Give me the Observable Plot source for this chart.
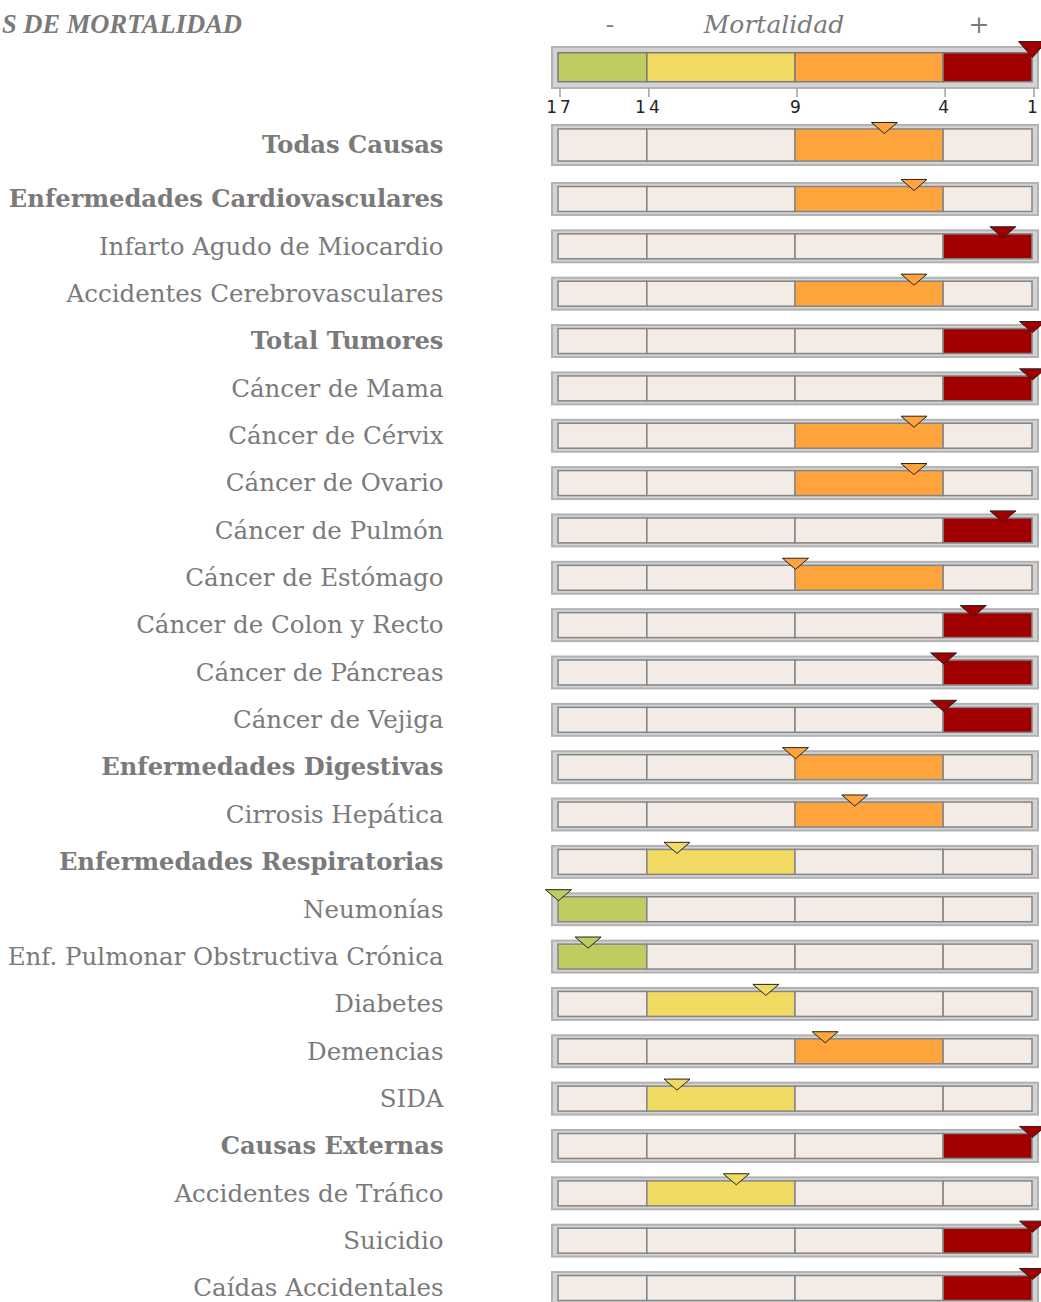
<!DOCTYPE html>
<html><head><meta charset="utf-8">
<script src="https://cdn.jsdelivr.net/npm/d3@7"></script>
<script src="https://cdn.jsdelivr.net/npm/@observablehq/plot@0.6"></script>
<style>
body{margin:0;background:#fff;}
#wrap{position:relative;width:1041px;height:1302px;overflow:hidden;font-family:"DejaVu Serif",serif;color:#7a7a7a;}
#head{position:absolute;left:0;top:0;line-height:0;}
#body{position:absolute;left:0;top:120px;line-height:0;}
.t{position:absolute;white-space:nowrap;font-style:italic;line-height:1;}
.c{transform:translateX(-50%);}
</style></head><body>
<div id="wrap">
  <div id="head"></div>
  <div id="body"></div>
  <div class="t" id="title" style="right:799px;top:11px;font-weight:bold;font-size:26.5px;font-family:'Liberation Serif',serif;">S DE MORTALIDAD</div>
  <div class="t c" style="left:610px;top:12px;font-size:25px;">-</div>
  <div class="t c" style="left:774px;top:12px;font-size:25px;">Mortalidad</div>
  <div class="t c" style="left:979px;top:12px;font-size:25px;">+</div>
</div>
<script>
// ---- data ----
const causes = ["Todas Causas", "Enfermedades Cardiovasculares", "Infarto Agudo de Miocardio",
  "Accidentes Cerebrovasculares", "Total Tumores", "Cáncer de Mama", "Cáncer de Cérvix",
  "Cáncer de Ovario", "Cáncer de Pulmón", "Cáncer de Estómago", "Cáncer de Colon y Recto",
  "Cáncer de Páncreas", "Cáncer de Vejiga", "Enfermedades Digestivas", "Cirrosis Hepática",
  "Enfermedades Respiratorias", "Neumonías", "Enf. Pulmonar Obstructiva Crónica", "Diabetes",
  "Demencias", "SIDA", "Causas Externas", "Accidentes de Tráfico", "Suicidio", "Caídas Accidentales"];
const ranks = [6, 5, 2, 5, 1, 1, 5, 5, 2, 9, 3, 4, 4, 9, 7, 13, 17, 16, 10, 8, 13, 1, 11, 1, 1];
const isGroup = [true, true, false, false, true, false, false, false, false, false, false, false, false,
  true, false, true, false, false, false, false, false, true, false, false, false];
const breaks = [17, 14, 9, 4, 1];
const levelColors = ["#bfcc5f", "#f0da62", "#ffa43c", "#a00000"];
const legendRank = 1;

// ---- helpers ----
const emptyFill = "#f3ece6";
function levelOf(r) {
  for (let i = 0; i < breaks.length - 1; i++) if (r > breaks[i + 1]) return i;
  return breaks.length - 2;
}
function downTriangle(ratio) {
  return {draw(ctx, size) {
    const r = Math.sqrt(size / Math.PI);
    ctx.moveTo(-r, -r * ratio); ctx.lineTo(r, -r * ratio); ctx.lineTo(0, 0); ctx.closePath();
  }};
}
const segments = breaks.slice(0, -1).map((b, i) => ({from: b, to: breaks[i + 1], color: levelColors[i], level: i}));
const rows = causes.map((c, i) => ({cause: c, rank: ranks[i], group: isGroup[i], head: i === 0, level: levelOf(ranks[i])}));
const cells = rows.flatMap(r => segments.map(s => ({cause: r.cause, head: r.head, from: s.from, to: s.to,
  fill: s.level === r.level ? s.color : emptyFill})));

const xScale = {domain: [breaks[0], breaks[breaks.length - 1]], range: [558, 1032], axis: null};
const rowTri = downTriangle(0.85);

function rowMarks(rs, cs, g) {
  return [
    Plot.barX(rs, {x1: () => breaks[0], x2: () => breaks[breaks.length - 1], y: "cause",
      fill: "#d3d3d3", stroke: "#b2b2b2", strokeWidth: 2,
      insetLeft: -6, insetRight: -6, insetTop: g.oTop, insetBottom: g.oBot}),
    Plot.barX(cs, {x1: "from", x2: "to", y: "cause", fill: "fill", stroke: "#858585", strokeWidth: 1.5,
      insetTop: g.iTop, insetBottom: g.iBot}),
    Plot.dot(rs, {x: "rank", y: "cause", symbol: rowTri, r: 13, dy: g.tri,
      fill: d => levelColors[d.level], stroke: "#222", strokeWidth: 1}),
    Plot.text(rs.filter(d => d.group), {y: "cause", text: "cause", frameAnchor: "left", textAnchor: "end",
      dy: g.txt, fontSize: 24.2, fontWeight: "bold", fill: "#7a7a7a"}),
    Plot.text(rs.filter(d => !d.group), {y: "cause", text: "cause", frameAnchor: "left", textAnchor: "end",
      dy: g.txt, fontSize: 24.5, fill: "#7a7a7a"})
  ];
}

const headGeom = {oTop: -3, oBot: 10.3, iTop: 1, iBot: 14.3, tri: -18.6, txt: -6.6};
const rowGeom = {oTop: 7.7, oBot: 7.7, iTop: 11.2, iBot: 11.2, tri: -9, txt: 0};

const body = Plot.plot({
  width: 1041, height: 1182,
  marginLeft: 443, marginRight: 0, marginTop: 0, marginBottom: 0,
  style: {fontFamily: "DejaVu Serif", background: "transparent", overflow: "hidden"},
  x: xScale,
  y: {type: "band", domain: causes, range: [7.97, 1191.7], padding: 0, round: false, axis: null},
  marks: [
    ...rowMarks(rows.filter(d => d.head), cells.filter(d => d.head), headGeom),
    ...rowMarks(rows.filter(d => !d.head), cells.filter(d => !d.head), rowGeom)
  ]
});
document.getElementById("body").appendChild(body);

const head = Plot.plot({
  width: 1041, height: 120,
  marginLeft: 0, marginRight: 0, marginTop: 47, marginBottom: 32,
  style: {fontFamily: "DejaVu Sans", fontSize: "17px", letterSpacing: "3px", background: "transparent", overflow: "visible"},
  x: xScale,
  marks: [
    Plot.barX([breaks], {x1: d => d[0], x2: d => d[d.length - 1], fill: "#d3d3d3", stroke: "#b2b2b2", strokeWidth: 2,
      insetLeft: -6, insetRight: -6}),
    Plot.barX(segments, {x1: "from", x2: "to", fill: "color", stroke: "#7a7a7a", strokeWidth: 1.5,
      insetTop: 5.7, insetBottom: 6.3}),
    Plot.dot([legendRank], {x: d => d, frameAnchor: "top", dy: 10, symbol: downTriangle(1.14), r: 14,
      fill: d => levelColors[levelOf(d)], stroke: "#222", strokeWidth: 1}),
    Plot.axisX({ticks: breaks, anchor: "bottom", tickSize: 9, tickPadding: 3, stroke: "#a0a0a0",
      strokeWidth: 1.5, fill: "#222", fontSize: 17, dx: 1.5, tickFormat: d => String(d)})
  ]
});
document.getElementById("head").appendChild(head);
</script>
</body></html>
